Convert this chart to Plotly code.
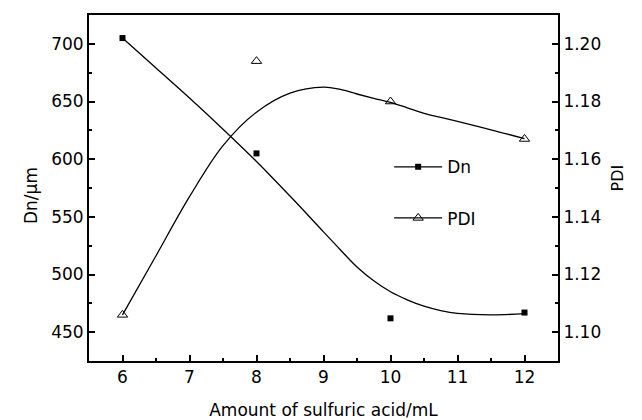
import plotly.graph_objects as go

# measured data points
x_pts = [6, 8, 10, 12]
dn_pts = [705, 605, 462, 467]
pdi_pts = [1.106, 1.194, 1.180, 1.167]

# fitted curves
x_fit = [6, 6.5, 7, 7.5, 8, 8.5, 9, 9.25, 9.5, 9.75, 10, 10.25, 10.5, 10.75, 11, 11.5, 12]
dn_fit = [705, 679, 653, 626, 598, 568, 537, 521.5, 506.5, 494.5, 485, 478, 472.5, 468.7, 466.3, 465, 466]
pdi_fit = [1.106, 1.1265, 1.147, 1.1647, 1.1763, 1.1829, 1.1850, 1.1842, 1.1826, 1.1811, 1.1797,
           1.1778, 1.1759, 1.1745, 1.1731, 1.1702, 1.1671]

x_ticks = [6, 7, 8, 9, 10, 11, 12]
dn_ticks = [450, 500, 550, 600, 650, 700]
pdi_ticks = [1.10, 1.12, 1.14, 1.16, 1.18, 1.20]

FONT = "DejaVu Sans"
fig = go.Figure()

fig.add_trace(go.Scatter(x=x_fit, y=dn_fit, mode="lines",
                         line=dict(color="black", width=1.3, shape="spline", smoothing=1.0),
                         showlegend=False, hoverinfo="skip"))
fig.add_trace(go.Scatter(x=x_fit, y=pdi_fit, mode="lines", yaxis="y2",
                         line=dict(color="black", width=1.3, shape="spline", smoothing=1.0),
                         showlegend=False, hoverinfo="skip"))
fig.add_trace(go.Scatter(x=x_pts, y=dn_pts, mode="markers", name="Dn",
                         marker=dict(symbol="square", size=6, color="black"), showlegend=False))
fig.add_trace(go.Scatter(x=x_pts, y=pdi_pts, mode="markers", name="PDI", yaxis="y2",
                         marker=dict(symbol="triangle-up-open", size=9, color="black", line=dict(width=1)),
                         showlegend=False))
# legend entries
fig.add_trace(go.Scatter(x=[None], y=[None], mode="lines+markers", name="Dn", legendgroup="a",
                         line=dict(color="black", width=1.3),
                         marker=dict(symbol="square", size=6, color="black")))
fig.add_trace(go.Scatter(x=[None], y=[None], mode="lines+markers", name="PDI", legendgroup="b", yaxis="y2",
                         line=dict(color="black", width=1.3),
                         marker=dict(symbol="triangle-up-open", size=9, color="black", line=dict(width=1))))

axis_common = dict(showline=True, linecolor="black", linewidth=2, ticks="inside", tickcolor="black",
                   tickwidth=1.5, ticklen=6, showgrid=False, zeroline=False, automargin=False,
                   tickfont=dict(family=FONT, size=17, color="black"))

fig.update_layout(
    width=642, height=420,
    margin=dict(l=89, r=84, t=15, b=59),
    paper_bgcolor="white", plot_bgcolor="white",
    font=dict(family=FONT, color="black"),
    xaxis=dict(range=[5.5, 12.5], tickvals=x_ticks, mirror=True,
               minor=dict(dtick=0.5, ticks="inside", ticklen=3, tickcolor="black"),
               title=dict(text="Amount of sulfuric acid/mL", font=dict(family=FONT, size=17), standoff=24),
               **axis_common),
    yaxis=dict(range=[425, 725], tickvals=dn_ticks,
               minor=dict(dtick=25, ticks="inside", ticklen=3, tickcolor="black"),
               **axis_common),
    yaxis2=dict(range=[1.09, 1.21], tickvals=pdi_ticks, tickformat=".2f", overlaying="y", side="right",
                minor=dict(dtick=0.01, ticks="inside", ticklen=3, tickcolor="black"),
                **axis_common),
    legend=dict(x=0.64, y=0.612, xanchor="left", yanchor="top", bgcolor="rgba(0,0,0,0)",
                font=dict(family=FONT, size=17), tracegroupgap=26, itemwidth=48),
    annotations=[
        dict(text="Dn/μm", textangle=-90, x=19, y=196, xref="paper", yref="paper", showarrow=False,
             font=dict(family=FONT, size=17)),
        dict(text="PDI", textangle=-90, x=628, y=178, xref="paper", yref="paper", showarrow=False,
             font=dict(family=FONT, size=16)),
    ],
)
# convert pixel positions for annotations into paper coords
pw, ph = 642 - 89 - 84, 420 - 15 - 59
for a in fig.layout.annotations:
    a.x = (a.x - 89) / pw
    a.y = (420 - 59 - a.y) / ph

fig.write_html("out.html")
